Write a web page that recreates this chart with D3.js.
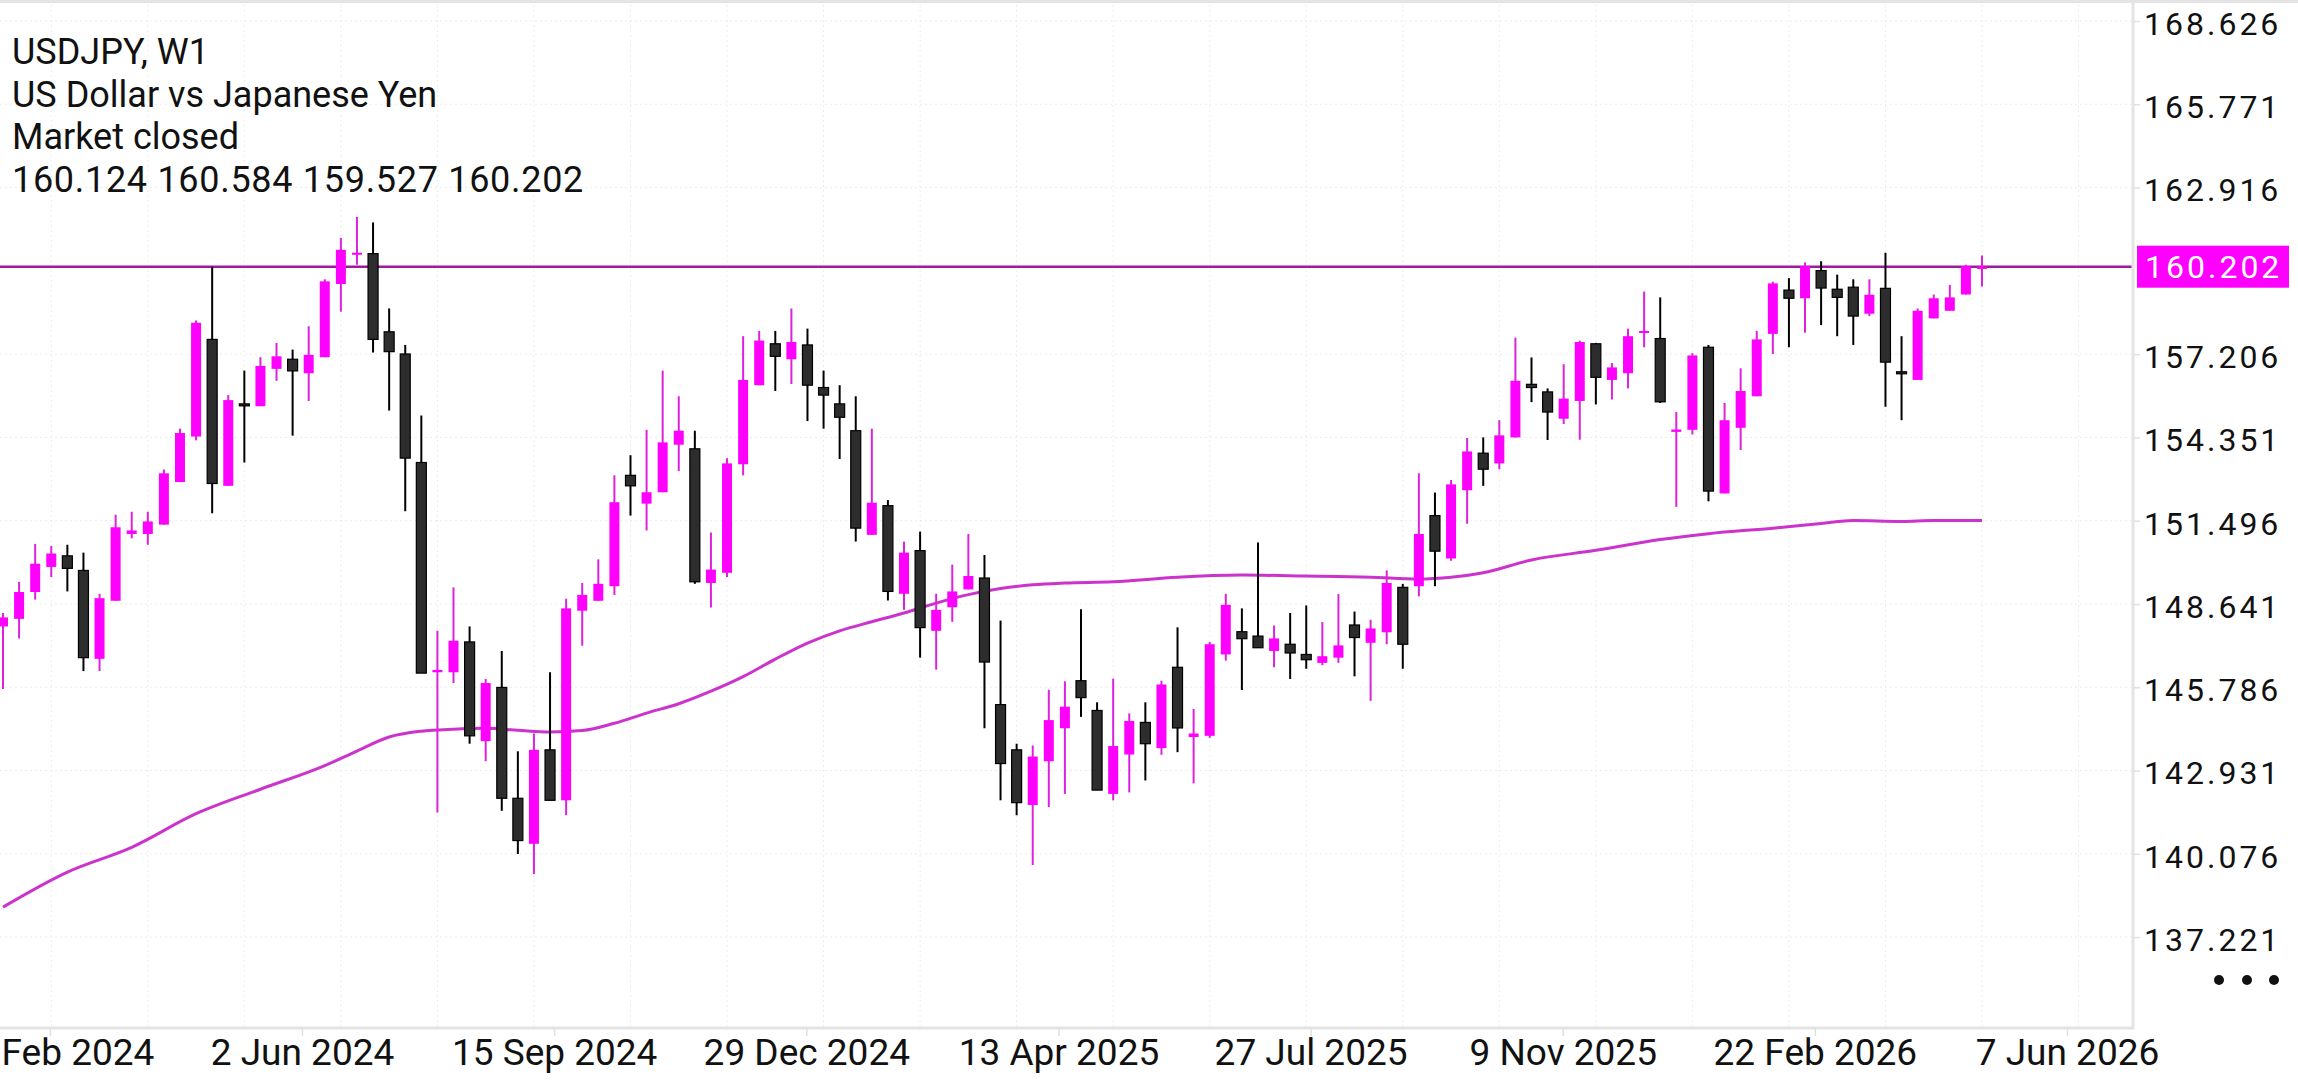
<!DOCTYPE html>
<html>
<head>
<meta charset="utf-8">
<script src="https://cdn.jsdelivr.net/npm/d3@7/dist/d3.min.js"></script>
<style>
  html, body { margin: 0; padding: 0; background: #fff; }
  svg { display: block; }
  text { font-family: Roboto, "Noto Sans", sans-serif; }
</style>
</head>
<body>
<svg id="chart" width="2298" height="1080"></svg>
<script>
// ---------------- DATA ----------------
const symbolTitle = "USDJPY, W1";
const symbolName = "US Dollar vs Japanese Yen";
const marketState = "Market closed";
const lastOHLC = [160.124, 160.584, 159.527, 160.202];

const opens = [147.87,148.13,149.05,149.91,150.29,149.79,146.76,148.75,151.04,151.04,
151.36,152.82,154.38,157.71,152.69,155.50,155.42,156.70,157.03,156.55,
157.10,159.61,160.62,160.65,157.97,157.21,153.49,146.30,146.30,147.34,
143.94,145.78,141.98,140.42,143.64,141.91,148.41,148.75,149.25,153.05,
152.08,152.47,154.10,153.96,149.36,149.71,153.43,156.14,157.56,157.03,
157.52,156.06,155.50,154.58,151.01,152.01,148.99,150.47,147.72,148.53,
149.14,149.53,145.19,143.64,141.75,143.25,144.38,146.01,144.99,142.13,
143.48,144.58,143.70,146.47,144.08,144.12,146.91,147.69,147.54,147.03,
147.26,146.91,146.62,146.80,147.92,147.31,147.67,149.21,149.25,151.67,
150.20,152.54,153.81,153.46,154.35,156.17,155.91,154.99,155.60,157.56,
156.32,156.55,157.93,157.74,154.54,154.61,157.44,152.43,154.68,155.76,
157.90,159.40,159.12,160.07,159.43,159.50,158.59,159.46,156.60,156.32,
158.43,158.69,159.25,160.124];
const highs = [148.33,149.40,150.70,150.63,150.67,150.40,148.99,151.70,151.80,151.80,
153.25,154.65,158.36,160.20,155.80,156.64,157.10,157.59,157.36,158.16,
159.77,161.19,161.91,161.72,158.77,157.52,155.10,147.72,149.21,147.87,
146.07,147.03,143.59,144.20,146.30,148.82,149.36,150.17,153.05,153.74,
154.61,156.64,155.76,154.58,151.09,153.64,157.82,158.00,158.00,158.77,
158.08,156.64,156.14,155.76,154.65,152.20,150.78,151.12,148.99,149.99,
151.04,150.32,148.07,143.85,143.79,145.70,145.99,148.46,145.27,146.08,
144.89,145.27,146.01,147.84,145.04,147.34,148.99,148.49,150.75,147.90,
148.33,148.59,148.02,148.98,148.38,148.10,149.79,149.33,153.12,152.46,
152.89,154.33,154.35,154.94,157.77,157.09,156.03,156.86,157.67,157.59,
156.90,158.08,159.35,159.15,155.22,157.24,157.52,155.53,156.72,158.00,
159.69,159.81,160.35,160.39,159.93,159.77,159.77,160.68,157.82,158.77,
159.25,159.58,160.27,160.584];
const lows = [145.73,147.46,148.79,149.56,149.07,146.34,146.34,148.75,150.89,150.67,
151.36,152.82,154.25,151.75,152.69,153.49,155.42,156.29,154.41,155.60,
157.10,158.66,160.27,157.26,155.27,151.82,146.27,141.49,145.93,143.85,
143.25,141.55,140.07,139.38,141.91,141.40,147.21,148.75,148.95,151.67,
151.16,152.47,153.20,149.33,148.52,149.56,153.05,156.14,155.94,156.18,
154.91,154.65,153.61,150.78,151.01,148.76,148.44,146.80,146.39,148.03,
149.14,144.38,141.91,141.40,139.69,141.68,142.13,144.77,142.26,141.91,
142.18,142.59,143.47,143.56,142.49,144.05,146.70,145.69,147.14,146.47,
146.07,146.42,146.54,146.62,146.16,145.32,147.26,146.42,148.90,149.25,
150.12,151.39,152.69,153.26,154.35,155.56,154.26,154.81,154.27,155.48,
155.65,156.03,157.44,155.53,151.97,154.45,152.16,152.43,153.92,155.76,
157.21,157.44,157.94,158.20,157.82,157.52,158.51,155.40,154.94,156.32,
158.43,158.69,159.25,159.527];
const closes = [148.18,149.05,150.02,150.37,149.86,146.80,148.84,151.27,151.16,151.47,
153.12,154.50,158.28,152.77,155.63,155.47,156.80,157.13,156.63,157.18,
159.70,160.78,160.68,157.71,157.29,153.64,146.27,146.38,147.38,144.12,
145.93,141.98,140.53,143.64,141.91,148.49,148.95,149.33,152.13,152.69,
152.47,154.18,154.58,149.40,149.82,153.46,156.32,157.67,157.13,157.62,
156.14,155.80,155.04,151.24,152.11,149.07,150.40,147.83,148.44,149.07,
149.60,146.65,143.17,141.83,143.41,144.66,145.12,145.43,142.26,143.77,
144.63,143.85,145.88,144.39,144.20,147.26,148.61,147.45,147.14,147.46,
146.96,146.73,146.85,147.22,147.49,147.80,149.36,147.26,151.04,150.45,
152.74,153.87,153.26,154.42,156.29,156.06,155.22,155.68,157.62,156.41,
156.75,157.82,158.00,155.57,154.62,157.16,152.51,154.94,155.94,157.71,
159.63,159.12,160.22,159.47,159.15,158.51,159.24,156.93,156.55,158.69,
159.12,159.15,160.22,160.202];

// moving average, read at these bar numbers
const maBars = [1,5,9,13,17,21,23,25,27,29,31,33,35,37,39,41,43,45,47,49,51,53,55,57,59,61,63,65,67,70,74,78,82,86,89,91,93,96,100,104,107,111,114,116,119,121,124];
const maValues = [138.25,139.45,140.30,141.45,142.29,143.10,143.60,144.08,144.28,144.35,144.38,144.31,144.25,144.30,144.55,144.90,145.22,145.65,146.15,146.75,147.30,147.72,148.03,148.33,148.67,148.96,149.17,149.30,149.36,149.40,149.56,149.63,149.60,149.56,149.50,149.56,149.71,150.15,150.48,150.85,151.05,151.24,151.40,151.50,151.47,151.50,151.50];

const priceTicks = [168.626,165.771,162.916,157.206,154.351,151.496,148.641,145.786,142.931,140.076,137.221];
const currentPrice = 160.202;
const dateTicks = ["18 Feb 2024","2 Jun 2024","15 Sep 2024","29 Dec 2024","13 Apr 2025","27 Jul 2025","9 Nov 2025","22 Feb 2026","7 Jun 2026"];
const firstLabelVisible = "Feb 2024";   // the first date label is cut by the left edge

// ---------------- LAYOUT ----------------
const W = 2298, H = 1080;
const plotRight = 2133, plotBottom = 1028;
const svg = d3.select("#chart");
svg.append("rect").attr("width", W).attr("height", H).attr("fill", "#fff");

const bars = d3.range(opens.length).map(i => ({
  n: i + 1, o: opens[i], h: highs[i], l: lows[i], c: closes[i]
}));

const x = d3.scaleLinear().domain([1, bars.length]).range([3, 1982]);
const y = d3.scaleLinear().domain([160.202, 137.221]).range([266.7, 937.1]);

const parse = d3.timeParse("%d %b %Y");
const dates = dateTicks.map(parse);
const xt = d3.scaleTime().domain([parse("2 Jun 2024"), parse("7 Jun 2026")]).range([302, 2067]);

// clip
svg.append("defs").append("clipPath").attr("id", "plotclip")
  .append("rect").attr("x", 0).attr("y", 0).attr("width", plotRight).attr("height", plotBottom);

const plot = svg.append("g").attr("clip-path", "url(#plotclip)");

// grid
const gridBars = d3.range(4, 137, 6);
plot.append("g").selectAll("line").data(gridBars).join("line")
  .attr("x1", d => x(d)).attr("x2", d => x(d))
  .attr("y1", 0).attr("y2", plotBottom)
  .attr("stroke", "#ececec").attr("stroke-width", 1).attr("stroke-dasharray", "2,3");
plot.append("g").selectAll("line").data(priceTicks.concat([currentPrice])).join("line")
  .attr("x1", 0).attr("x2", plotRight)
  .attr("y1", d => y(d)).attr("y2", d => y(d))
  .attr("stroke", "#ececec").attr("stroke-width", 1).attr("stroke-dasharray", "2,3");

// moving average
const maPts = maBars.map((b, i) => [b, maValues[i]]);
plot.append("path").datum(maPts)
  .attr("d", d3.line().x(d => x(d[0])).y(d => y(d[1])).curve(d3.curveMonotoneX))
  .attr("fill", "none").attr("stroke", "#cc33cc").attr("stroke-width", 3);

// current price line
plot.append("line")
  .attr("x1", 0).attr("x2", plotRight)
  .attr("y1", y(currentPrice)).attr("y2", y(currentPrice))
  .attr("stroke", "#9e1a9e").attr("stroke-width", 2.5);

// candles
const up = d => d.c >= d.o;
const cg = plot.append("g").selectAll("g").data(bars).join("g");
cg.append("line")
  .attr("x1", d => x(d.n)).attr("x2", d => x(d.n))
  .attr("y1", d => y(d.h)).attr("y2", d => y(d.l))
  .attr("stroke", d => up(d) ? "#dd22dd" : "#000")
  .attr("stroke-width", 2);
const bw = 10;
cg.append("rect")
  .attr("x", d => x(d.n) - bw / 2)
  .attr("width", bw)
  .attr("y", d => y(Math.max(d.o, d.c)))
  .attr("height", d => Math.max(2, Math.abs(y(d.o) - y(d.c))))
  .attr("fill", d => up(d) ? "#ff00ff" : "#2d2d2d")
  .attr("stroke", d => up(d) ? "none" : "#000")
  .attr("stroke-width", 1.2);

// frame
svg.append("line").attr("x1", 0).attr("x2", W).attr("y1", 1.5).attr("y2", 1.5)
  .attr("stroke", "#e4e4e4").attr("stroke-width", 3);
svg.append("line").attr("x1", plotRight).attr("x2", plotRight).attr("y1", 0).attr("y2", plotBottom + 1.5)
  .attr("stroke", "#e4e4e4").attr("stroke-width", 3);
svg.append("line").attr("x1", 0).attr("x2", plotRight).attr("y1", plotBottom).attr("y2", plotBottom)
  .attr("stroke", "#e4e4e4").attr("stroke-width", 3);

// y axis
const yAxis = d3.axisRight(y).tickValues(priceTicks).tickSize(6).tickPadding(4)
  .tickFormat(d3.format(".3f"));
const ya = svg.append("g").attr("transform", `translate(${plotRight + 1},0)`).call(yAxis);
ya.select(".domain").remove();
ya.selectAll(".tick line").attr("stroke", "#e0e0e0").attr("stroke-width", 1.5);
ya.selectAll(".tick text")
  .attr("font-family", "Roboto, sans-serif").attr("font-size", 32)
  .attr("letter-spacing", "3px").attr("fill", "#111").attr("dy", "0.42em");

// current price label
const lab = svg.append("g");
lab.append("rect").attr("x", plotRight + 4).attr("y", y(currentPrice) - 21)
  .attr("width", 152).attr("height", 42).attr("fill", "#ff00ff");
lab.append("text").attr("x", plotRight + 12).attr("y", y(currentPrice))
  .attr("dy", "0.36em").attr("font-size", 32).attr("letter-spacing", "3px")
  .attr("fill", "#fff").text(d3.format(".3f")(currentPrice));

// x axis
const fmt = d3.timeFormat("%-d %b %Y");
const xAxis = d3.axisBottom(xt).tickValues(dates).tickSize(7).tickPadding(3)
  .tickFormat((d, i) => i === 0 ? firstLabelVisible : fmt(d));
const xa = svg.append("g").attr("transform", `translate(0,${plotBottom + 1})`).call(xAxis);
xa.select(".domain").remove();
xa.selectAll(".tick line").attr("stroke", "#e0e0e0").attr("stroke-width", 1.5);
xa.selectAll(".tick text")
  .attr("font-family", "Roboto, sans-serif").attr("font-size", 37).attr("fill", "#111");
// first label: only its visible part, flush with the left edge
xa.selectAll(".tick text").filter((d, i) => i === 0)
  .attr("text-anchor", "start")
  .attr("x", (d) => 1 - xt(d));

// more dots
svg.append("g").selectAll("circle").data([2219, 2247, 2274]).join("circle")
  .attr("cx", d => d).attr("cy", 980).attr("r", 5).attr("fill", "#111");

// header
const header = [symbolTitle, symbolName, marketState, lastOHLC.map(d3.format(".3f")).join(" ")];
svg.append("g").selectAll("text").data(header).join("text")
  .attr("x", 12).attr("y", (d, i) => 64 + i * 42.5)
  .attr("font-size", 36).attr("fill", "#111")
  .attr("letter-spacing", (d, i) => i === 3 ? "0.7px" : "0px")
  .text(d => d);
</script>
</body>
</html>
